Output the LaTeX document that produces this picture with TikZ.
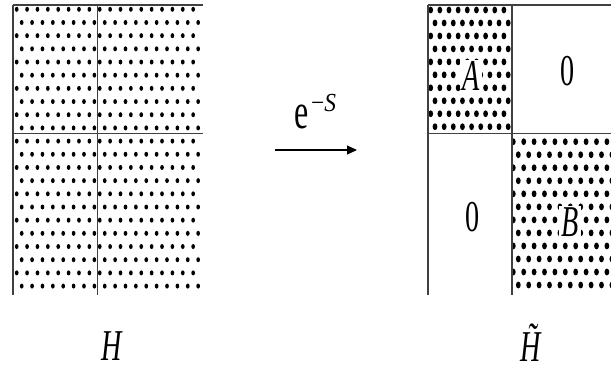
\documentclass[tikz,border=0pt]{standalone}
\usepackage{fontspec}
\setmainfont{Liberation Serif}
\usepackage{graphicx}
\usetikzlibrary{arrows.meta}
\newcommand{\cnd}[1]{\scalebox{0.64}[1]{#1}}
\tikzset{
  frame/.style={draw=black!75, line width=1.1pt},
  lbl/.style={font=\fontsize{44}{44}\selectfont, inner sep=0pt, anchor=base},
  boxlbl/.style={lbl, fill=white, inner sep=2pt},
  arr/.style={line width=1.1pt, -{Triangle[length=10pt,width=9pt]}},
}
\begin{document}
\begin{tikzpicture}[x=1pt,y=-1pt]
\useasboundingbox (0,0) rectangle (611,372);
% ---- left matrix H: dots
\foreach \r in {0,...,21}{
  \pgfmathsetmacro{\yy}{9.3+13.18*\r}
  \pgfmathsetmacro{\xo}{mod(\r,2)==0 ? 16.7 : 21.7}
  \foreach \k in {0,...,17}{
    \fill (\xo+10.38*\k,\yy) ellipse [x radius=1.85pt, y radius=2.5pt];
  }
}
% frame
\draw[frame] (13,5) -- (203,5);
\draw[frame] (13,133.3) -- (203,133.3);
\draw[frame] (13,5) -- (13,295);
\draw[frame] (97.5,5) -- (97.5,295);
% ---- right matrix: block A dots
\begin{scope}
  \clip (428,5) rectangle (512,133.3);
  \foreach \r in {0,...,9}{
    \pgfmathsetmacro{\yy}{10+12.97*\r}
    \pgfmathsetmacro{\xo}{mod(\r,2)==0 ? 430.7 : 435}
    \foreach \k in {0,...,8}{
      \fill (\xo+9.15*\k,\yy) ellipse [x radius=2.4pt, y radius=3.4pt];
    }
  }
\end{scope}
% block B dots
\begin{scope}
  \clip (512,133.3) rectangle (611,295);
  \foreach \r in {0,...,11}{
    \pgfmathsetmacro{\yy}{141.7+13.03*\r}
    \pgfmathsetmacro{\xo}{mod(\r,2)==0 ? 513.3 : 518.3}
    \foreach \k in {0,...,9}{
      \fill (\xo+10.4*\k,\yy) ellipse [x radius=2.4pt, y radius=3.4pt];
    }
  }
\end{scope}
% frame
\draw[frame] (428,5) -- (611,5);
\draw[frame] (428,133.3) -- (611,133.3);
\draw[frame] (428,5) -- (428,295);
\draw[frame] (512,5) -- (512,295);
% ---- labels
\node[boxlbl] (A) at (471,90.7) {\cnd{\itshape A}};
\node[boxlbl] (B) at (570,236.7) {\cnd{\itshape B}};
\node[lbl] (zeroTR) at (568,85) {\cnd{0}};
\node[lbl] (zeroBL) at (472.5,231.7) {\cnd{0}};
\node[lbl] (H) at (112,360) {\cnd{\itshape H}};
\node[lbl] (Ht) at (531,361) {\cnd{\itshape\~{H}}};
% ---- arrow with e^{-S}
\node[lbl, font=\fontsize{50}{50}\selectfont] (ee) at (301.5,128.3) {\cnd{e}};
\node[lbl, font=\fontsize{26}{26}\selectfont] (sup) at (323.5,111) {\scalebox{0.9}[1]{−\textit{S}}};
\coordinate (arrS) at (275,150);
\coordinate (arrE) at (357,150);
\draw[arr] (arrS) -- (arrE);
\end{tikzpicture}
\end{document}
